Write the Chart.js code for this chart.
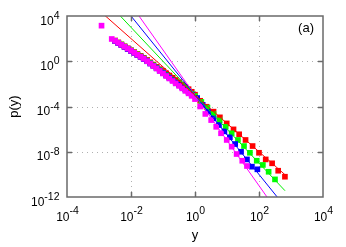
<!DOCTYPE html>
<html>
<head>
<meta charset="utf-8">
<script src="https://cdn.jsdelivr.net/npm/chart.js@4.4.1/dist/chart.umd.min.js"></script>
<style>
  html, body { margin: 0; padding: 0; background: #fff; }
  #wrap { width: 346px; height: 247px; position: relative; }
</style>
</head>
<body>
<div id="wrap"><canvas id="pdfChart"></canvas></div>
<script>
// axis ticks (decades)
const xTicks = [1e-4, 1e-2, 1e0, 1e2, 1e4];
const yTicks = [1e-12, 1e-8, 1e-4, 1e0, 1e4];

// shared log bins for the small-y part
const binX = [3.2e-3, 4.0e-3, 5.0e-3, 6.3e-3, 7.9e-3, 1.0e-2, 1.26e-2, 1.58e-2, 2.0e-2, 2.5e-2,
  3.2e-2, 4.0e-2, 5.0e-2, 6.3e-2, 7.9e-2, 0.1, 0.126, 0.158, 0.2, 0.25,
  0.32, 0.4, 0.5, 0.63, 0.79, 1.0];

const redX = binX.concat([1.45, 2.3, 3.8, 6.0, 9.8, 16, 24, 38, 63, 100, 162, 257, 398, 646]);
const redY = [68, 46, 31, 21, 14, 9.5, 6.5, 4.4, 3.0, 2.0, 1.3, 0.81, 0.51, 0.32, 0.20, 0.14, 0.085, 0.055,
  0.035, 0.022, 0.014, 8.7e-3, 5.5e-3, 3.4e-3, 2.0e-3, 1.1e-3,
  3.2e-4, 9.5e-5, 3.5e-5, 1.1e-5, 3.2e-6, 9.5e-7, 3.5e-7, 1.1e-7, 3.2e-8, 8.1e-9, 2.1e-9, 9.5e-10, 2.1e-10, 6.2e-11];

const greenX = binX.concat([1.58, 2.45, 3.8, 5.9, 9.1, 14, 22, 34, 52, 85, 132, 200, 316]);
const greenY = [65, 44, 30, 20, 13, 8.9, 6.0, 4.0, 2.7, 1.8, 1.15, 0.72, 0.45, 0.275, 0.17, 0.105, 0.065, 0.040,
  0.0245, 0.0151, 9.3e-3, 5.8e-3, 3.5e-3, 2.2e-3, 1.35e-3, 8.3e-4,
  2.5e-4, 7.9e-5, 2.1e-5, 5.9e-6, 1.6e-6, 4.3e-7, 1.1e-7, 3.2e-8, 8.1e-9, 1.6e-9, 6.8e-10, 1.7e-10, 3.6e-11];

const blueX = binX.slice(0, 25).concat([1.17, 1.74, 2.57, 3.8, 5.6, 8.3, 12.3, 18, 27.5, 42, 60, 89]);
const blueY = [60, 40, 27, 18, 12, 8.1, 5.4, 3.5, 2.4, 1.58, 1.0, 0.63, 0.39, 0.24, 0.148, 0.091, 0.056, 0.035,
  0.021, 0.013, 8.1e-3, 5.0e-3, 3.1e-3, 1.9e-3, 1.1e-3,
  5.6e-4, 1.4e-4, 3.5e-5, 8.9e-6, 2.3e-6, 6.3e-7, 1.9e-7, 4.8e-8, 1.0e-8, 2.1e-9, 4.8e-10, 2.8e-10];

const magentaX = [1.2e-3, 2.5e-3].concat(binX, [1.45, 2.1, 3.2, 4.6, 6.5, 9.8, 14, 20, 30, 42]);
const magentaY = [1.4e3, 93, 63, 42, 28, 19, 13, 8.5, 5.6, 3.7, 2.5, 1.66, 1.02, 0.63, 0.38, 0.23, 0.138, 0.083,
  0.050, 0.030, 0.018, 0.011, 6.6e-3, 4.0e-3, 2.4e-3, 1.45e-3, 8.7e-4, 4.5e-4,
  1.0e-4, 2.2e-5, 6.3e-6, 1.6e-6, 4.3e-7, 1.1e-7, 2.8e-8, 6.3e-9, 1.6e-9, 5.5e-10];

// power-law guide lines (end points)
const fitX = [1e-3, 650];
const redFit = [3.2e4, 9.3e-11];
const greenFit = [1e6, 3.6e-12];
const blueFit = [3.2e7, 1.4e-13];
const magentaFit = [1e9, 5.6e-15];

const FONT = '"Liberation Sans", Arial, sans-serif';

function pts(xs, ys) { return xs.map((x, i) => ({ x: x, y: ys[i] })); }

function pointSet(xs, ys, color, order) {
  return {
    data: pts(xs, ys), order: order, showLine: false,
    pointStyle: 'rect', pointRadius: 4, pointHoverRadius: 4,
    pointBackgroundColor: color, pointBorderColor: color, pointBorderWidth: 0
  };
}
function lineSet(ys, color) {
  return {
    data: pts(fitX, ys), order: 0, showLine: true, borderColor: color, borderWidth: 1,
    pointRadius: 0, pointHoverRadius: 0, fill: false
  };
}

// "10" with a raised exponent, gnuplot style
function drawPow(ctx, v, x, base, raise, align) {
  const e = String(Math.round(Math.log10(v)));
  ctx.font = '12px ' + FONT;
  const w1 = ctx.measureText('10').width;
  ctx.font = '10.5px ' + FONT;
  const w2 = ctx.measureText(e).width;
  const x0 = align === 'right' ? x - w1 - w2 : x - (w1 + w2) / 2;
  ctx.font = '12px ' + FONT;
  ctx.fillText('10', x0, base);
  ctx.font = '10.5px ' + FONT;
  ctx.fillText(e, x0 + w1, base - raise);
}

const framePlugin = {
  id: 'frame',
  beforeDatasetsDraw(chart) {
    const { ctx, chartArea: a, scales: { x, y } } = chart;
    ctx.save();
    ctx.strokeStyle = '#b0b0b0';
    ctx.lineWidth = 1;
    ctx.setLineDash([1, 4]);
    ctx.beginPath();
    xTicks.slice(1, -1).forEach(v => {
      const px = Math.round(x.getPixelForValue(v)) + 0.5;
      ctx.moveTo(px, a.top); ctx.lineTo(px, a.bottom);
    });
    yTicks.slice(1, -1).forEach(v => {
      const py = Math.round(y.getPixelForValue(v)) + 0.5;
      ctx.moveTo(a.left, py); ctx.lineTo(a.right, py);
    });
    ctx.stroke();
    ctx.restore();
  },
  afterDraw(chart) {
    const { ctx, chartArea: a, scales: { x, y } } = chart;
    ctx.save();
    ctx.strokeStyle = '#6a6a6a';
    ctx.lineWidth = 1.5;
    ctx.strokeRect(a.left, a.top, a.right - a.left, a.bottom - a.top);
    ctx.beginPath();
    const tl = 5;
    xTicks.slice(1, -1).forEach(v => {
      const px = Math.round(x.getPixelForValue(v)) + 0.5;
      ctx.moveTo(px, a.bottom); ctx.lineTo(px, a.bottom - tl);
      ctx.moveTo(px, a.top); ctx.lineTo(px, a.top + tl);
    });
    yTicks.slice(1, -1).forEach(v => {
      const py = Math.round(y.getPixelForValue(v)) + 0.5;
      ctx.moveTo(a.left, py); ctx.lineTo(a.left + tl, py);
      ctx.moveTo(a.right, py); ctx.lineTo(a.right - tl, py);
    });
    ctx.stroke();

    ctx.fillStyle = '#000';
    ctx.textAlign = 'left';
    ctx.textBaseline = 'alphabetic';
    xTicks.forEach(v => drawPow(ctx, v, x.getPixelForValue(v) + 0.5, a.bottom + 24, 7, 'center'));
    yTicks.forEach(v => drawPow(ctx, v, a.left - 7.5, y.getPixelForValue(v) + 8.5, 5.5, 'right'));

    ctx.font = '13px ' + FONT;
    ctx.textAlign = 'right';
    ctx.textBaseline = 'middle';
    ctx.fillText('(a)', a.right - 9, a.top + 12);
    ctx.restore();
  }
};

Chart.defaults.font.family = FONT;
Chart.defaults.color = '#000';

new Chart(document.getElementById('pdfChart'), {
  type: 'scatter',
  data: {
    datasets: [
      lineSet(redFit, '#ff0000'),
      lineSet(greenFit, '#00ee00'),
      lineSet(blueFit, '#0000ff'),
      lineSet(magentaFit, '#ff00ff'),
      pointSet(magentaX, magentaY, '#ff00ff', 1),
      pointSet(blueX, blueY, '#0000ff', 2),
      pointSet(greenX, greenY, '#00ff00', 3),
      pointSet(redX, redY, '#ff0000', 4)
    ]
  },
  options: {
    responsive: true,
    maintainAspectRatio: false,
    animation: false,
    layout: { padding: { top: 16, right: 23, left: 0, bottom: 0 } },
    plugins: { legend: { display: false }, tooltip: { enabled: false } },
    scales: {
      x: {
        type: 'logarithmic', min: 1e-4, max: 1e4,
        afterBuildTicks: s => { s.ticks = xTicks.map(v => ({ value: v })); },
        afterFit: s => { s.height = 50; },
        grid: { display: false, drawTicks: false },
        border: { display: false },
        ticks: { display: false },
        title: { display: true, text: 'y', font: { size: 13 }, padding: { top: 0, bottom: 4 } }
      },
      y: {
        type: 'logarithmic', min: 1e-12, max: 1e4,
        afterBuildTicks: s => { s.ticks = yTicks.map(v => ({ value: v })); },
        afterFit: s => { s.width = 67; },
        grid: { display: false, drawTicks: false },
        border: { display: false },
        ticks: { display: false },
        title: { display: true, text: 'p(y)', font: { size: 13 }, padding: { top: 7, bottom: 0 } }
      }
    }
  },
  plugins: [framePlugin]
});
</script>
</body>
</html>
